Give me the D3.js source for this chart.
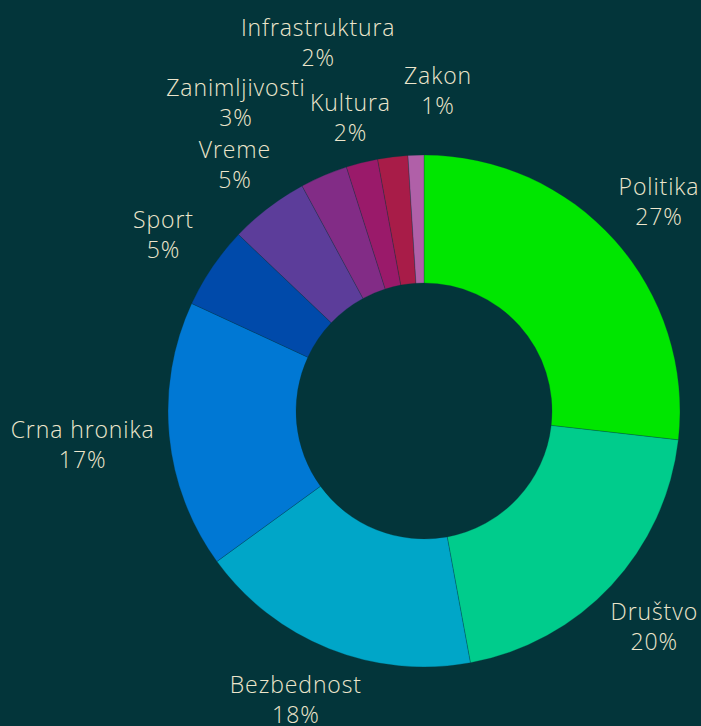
<!DOCTYPE html>
<html lang="sr">
<head>
<meta charset="UTF-8">
<title>Teme</title>
<script src="https://d3js.org/d3.v7.min.js"></script>
<style>
  body { margin: 0; background: #03353a; }
  .label { fill: #ede6cc; font-family: "Open Sans", sans-serif; font-weight: 300; font-size: 23px; letter-spacing: 0.9px; }
</style>
</head>
<body>
<svg id="chart"></svg>
<script>
  // categories and their shares
  const categories = ["Politika", "Društvo", "Bezbednost", "Crna hronika", "Sport", "Vreme",
    "Zanimljivosti", "Kultura", "Infrastruktura", "Zakon"];
  const shares = [26.8, 20.3, 17.9, 16.9, 5.2, 5.0, 3.0, 2.0, 1.9, 1.0];
  const colors = ["#00e600", "#00cc8c", "#00a6c8", "#0078d4", "#004aaa", "#5c3d9a",
    "#822c86", "#9a1a6a", "#a81c48", "#b060a8"];

  const width = 701, height = 726;
  const cx = 424, cy = 411;
  const outer = 256, inner = 128;
  const labelR = 315;

  // labels that were moved around to stop overlaps
  const labelTweak = {
    "Bezbednost": { angle: 204, r: 315 },
    "Crna hronika": { r: 343 },
    "Vreme": { r: 311 },
    "Zanimljivosti": { angle: 328.7, r: 362 },
    "Kultura": { r: 303 },
    "Infrastruktura": { angle: 344, r: 384 },
    "Zakon": { angle: 2.5, r: 321 }
  };

  const data = categories.map((c, i) => ({ name: c, value: shares[i], color: colors[i] }));

  const svg = d3.select("#chart")
    .attr("width", width)
    .attr("height", height);

  const g = svg.append("g").attr("transform", `translate(${cx},${cy})`);

  const pie = d3.pie().value(d => d.value).sort(null);
  const arc = d3.arc().innerRadius(inner).outerRadius(outer);
  const arcs = pie(data);

  g.selectAll("path")
    .data(arcs)
    .enter().append("path")
    .attr("d", arc)
    .attr("fill", d => d.data.color)
    .attr("stroke", "#03353a")
    .attr("stroke-opacity", 0.35)
    .attr("stroke-width", 0.8);

  const labels = g.selectAll(".label")
    .data(arcs)
    .enter().append("text")
    .attr("class", "label")
    .attr("text-anchor", "middle")
    .attr("transform", d => {
      const t = labelTweak[d.data.name] || {};
      const a = t.angle !== undefined ? t.angle * Math.PI / 180 : (d.startAngle + d.endAngle) / 2;
      const r = t.r || labelR;
      return `translate(${r * Math.sin(a)},${-r * Math.cos(a)})`;
    });

  labels.append("tspan")
    .attr("x", 0)
    .attr("y", -6)
    .text(d => d.data.name);

  labels.append("tspan")
    .attr("x", 0)
    .attr("y", 24)
    .text(d => Math.round(d.data.value) + "%");
</script>
</body>
</html>
